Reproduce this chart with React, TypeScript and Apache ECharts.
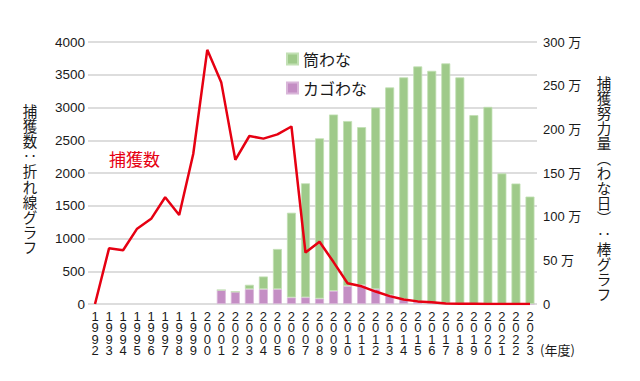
import React, { useEffect, useRef } from "react";
import * as echarts from "echarts";

const years = [
  "1992", "1993", "1994", "1995", "1996", "1997", "1998", "1999", "2000", "2001",
  "2002", "2003", "2004", "2005", "2006", "2007", "2008", "2009", "2010", "2011",
  "2012", "2013", "2014", "2015", "2016", "2017", "2018", "2019", "2020", "2021",
  "2022", "2023",
];

// 捕獲数 (left axis)
const captures = [
  0, 850, 820, 1150, 1300, 1630, 1360, 2290, 3880, 3380,
  2200, 2565, 2525, 2590, 2710, 785, 950, 640, 316, 270,
  190, 120, 70, 40, 25, 8, 3, 2, 1, 1,
  0, 0,
];

// 筒わな (万わな日, right axis)
const tubeTraps = [
  null, null, null, null, null, null, null, null, null, 0,
  0, 5, 14.5, 46, 97, 130.5, 183.5, 202, 189, 181,
  208, 238, 254, 269.5, 265.5, 274.5, 259, 216, 225.5, 149.5,
  138, 123,
];

// カゴわな (万わな日, right axis)
const cageTraps = [
  null, null, null, null, null, null, null, null, null, 16,
  14, 17, 17, 17, 7.5, 7.7, 6.2, 15, 20.5, 21.5,
  17, 10, 5.5, 2.5, 1.5, 1, 0.5, 0.3, 0.2, 0,
  0, 0,
];

const leftTitle = "捕獲数‥折れ線グラフ";
const rightTitle = "捕獲努力量︵わな日︶‥棒グラフ";

const FONT = "'Liberation Sans', 'Noto Sans CJK JP', sans-serif";
const JFONT = "'Noto Sans CJK JP', 'Liberation Sans', sans-serif";

function verticalText(text: string, x: number, y0: number, step: number, size: number) {
  return text.split("").map((ch, i) => ({
    type: "text",
    x,
    y: y0 + i * step,
    style: {
      text: ch,
      fontSize: size,
      lineHeight: step - 0.2,
      fill: "#1a1a1a",
      align: "center",
      verticalAlign: "middle",
      fontFamily: JFONT,
    },
  }));
}

export default function App() {
  const ref = useRef<HTMLDivElement>(null);
  useEffect(() => {
    if (!ref.current) return;
    const chart = echarts.init(ref.current, undefined, { renderer: "svg" });
    chart.setOption({
      animation: false,
      backgroundColor: "#ffffff",
      textStyle: { fontFamily: FONT, color: "#1a1a1a" },
      grid: { left: 88, right: 103, top: 42, bottom: 77 },
      legend: {
        data: ["筒わな", "カゴわな"],
        orient: "vertical",
        left: 286,
        top: 51,
        padding: 0,
        itemWidth: 11,
        itemHeight: 11,
        itemGap: 13,
        icon: "rect",
        textStyle: { fontFamily: JFONT, fontSize: 16, color: "#1a1a1a" },
      },
      xAxis: {
        type: "category",
        data: years,
        boundaryGap: true,
        axisTick: { show: false },
        axisLine: { show: false },
        axisLabel: {
          interval: 0,
          margin: 7,
          fontSize: 13,
          lineHeight: 11.3,
          color: "#1a1a1a",
          formatter: (v: string) => v.split("").join("\n"),
        },
      },
      yAxis: [
        {
          type: "value",
          min: 0,
          max: 4000,
          interval: 500,
          axisLine: { show: false },
          axisTick: { show: false },
          axisLabel: {
            fontSize: 13.5,
            color: "#1a1a1a",
            margin: 3,
            formatter: (v: number) => String(v),
          },
          splitLine: { lineStyle: { color: "#d2d2d2", width: 1.5 } },
        },
        {
          type: "value",
          min: 0,
          max: 300,
          interval: 50,
          axisLine: { show: false },
          axisTick: { show: false },
          splitLine: { show: false },
          axisLabel: {
            fontSize: 13,
            color: "#1a1a1a",
            margin: 6,
            formatter: (v: number) => (v === 0 ? "0" : v + " 万"),
          },
        },
      ],
      series: [
        {
          name: "カゴわな",
          type: "bar",
          stack: "effort",
          yAxisIndex: 1,
          data: cageTraps,
          barCategoryGap: "36%",
          itemStyle: { color: "#c48ec4", borderColor: "#d9b6d9", borderWidth: 0.8 },
        },
        {
          name: "筒わな",
          type: "bar",
          stack: "effort",
          yAxisIndex: 1,
          data: tubeTraps,
          barCategoryGap: "36%",
          itemStyle: { color: "#9fca8a", borderColor: "#c2e0b4", borderWidth: 0.8 },
        },
        {
          name: "捕獲数",
          type: "line",
          yAxisIndex: 0,
          data: captures,
          symbol: "none",
          z: 5,
          lineStyle: { color: "#e60012", width: 2.5 },
        },
      ],
      graphic: [
        {
          type: "text",
          left: 109,
          top: 150,
          style: { text: "捕獲数", fontSize: 17, fill: "#e60012", fontFamily: JFONT },
        },
        ...verticalText(leftTitle, 30, 110, 15.2, 14.5),
        ...verticalText(rightTitle, 604, 82, 15.1, 14.5),
        {
          type: "text",
          x: 540,
          y: 343,
          style: { text: "(年度)", fontSize: 13, fill: "#1a1a1a", fontFamily: JFONT },
        },
      ],
    });
    return () => chart.dispose();
  }, []);
  return (
    <div
      ref={ref}
      style={{ position: "fixed", left: 0, top: 0, width: 640, height: 381 }}
    />
  );
}
